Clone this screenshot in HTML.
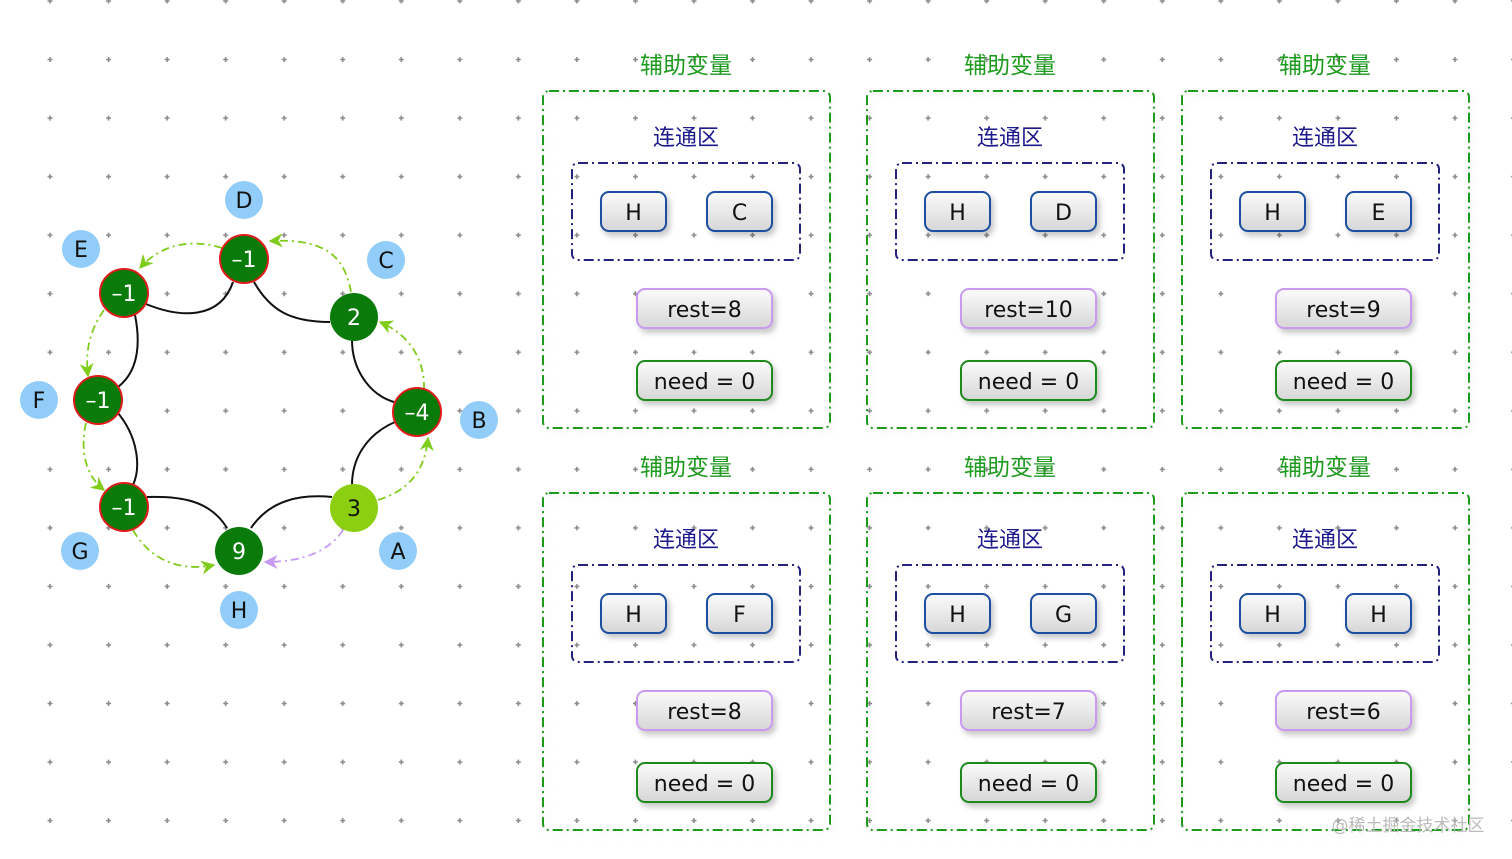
<!DOCTYPE html>
<html><head><meta charset="utf-8"><style>
html,body{margin:0;padding:0;background:#fff;width:1512px;height:859px;overflow:hidden}
svg{display:block}
text{font-family:"DejaVu Sans","Noto Sans CJK SC",sans-serif}
</style></head><body>
<svg width="1512" height="859" viewBox="0 0 1512 859" xmlns="http://www.w3.org/2000/svg">
<defs>
<pattern id="grid" patternUnits="userSpaceOnUse" x="20.75" y="-28.25" width="58.54" height="58.54">
<path d="M26.8 29.27h5M29.27 26.8v5" stroke="#8a8a8a" stroke-width="1.6"/>
</pattern>
<linearGradient id="btn" x1="0" y1="0" x2="0" y2="1">
<stop offset="0" stop-color="#fbfbfb"/><stop offset="1" stop-color="#d6d6d6"/>
</linearGradient>
<filter id="sh" x="-20%" y="-20%" width="150%" height="160%">
<feDropShadow dx="3" dy="4" stdDeviation="3" flood-color="#000" flood-opacity="0.22"/>
</filter>
<filter id="sh2" x="-5%" y="-5%" width="115%" height="115%">
<feDropShadow dx="3" dy="4" stdDeviation="4" flood-color="#000" flood-opacity="0.08"/>
</filter>
<marker id="ag" viewBox="0 0 10 10" refX="9" refY="5" markerWidth="14" markerHeight="14" orient="auto" markerUnits="userSpaceOnUse">
<path d="M0 0L10 5L0 10L3 5Z" fill="#80cc1c"/></marker>
<marker id="ap" viewBox="0 0 10 10" refX="9" refY="5" markerWidth="14" markerHeight="14" orient="auto" markerUnits="userSpaceOnUse">
<path d="M0 0L10 5L0 10L3 5Z" fill="#c79af5"/></marker>
<g id="panel">
<rect x="0" y="0" width="287" height="337" rx="6" fill="#fff" fill-opacity="0" stroke="#1e9a1e" stroke-width="2" stroke-dasharray="10 4 2 4" filter="url(#sh2)"/>
<text x="143" y="54" font-size="22" fill="#1d1a8c" text-anchor="middle">连通区</text>
<rect x="29" y="72" width="228" height="97" rx="6" fill="none" stroke="#23237e" stroke-width="2" stroke-dasharray="10 4 2 4"/>
<rect x="58" y="101" width="65" height="39" rx="8" fill="url(#btn)" stroke="#1f4fa0" stroke-width="2" filter="url(#sh)"/>
<text x="90.5" y="129" font-size="22" text-anchor="middle" fill="#111">H</text>
<rect x="164" y="101" width="65" height="39" rx="8" fill="url(#btn)" stroke="#1f4fa0" stroke-width="2" filter="url(#sh)"/>
<rect x="94" y="198" width="135" height="39" rx="8" fill="url(#btn)" stroke="#c99af0" stroke-width="2" filter="url(#sh)"/>
<rect x="94" y="270" width="135" height="39" rx="8" fill="url(#btn)" stroke="#1e8a1e" stroke-width="2" filter="url(#sh)"/>
<text x="161.5" y="298" font-size="22" text-anchor="middle" fill="#111">need = 0</text>
</g>
</defs>
<rect width="1512" height="859" fill="url(#grid)"/>

<g font-size="22" fill="#111" text-anchor="middle">
<g transform="translate(543,91)"><use href="#panel"/><text x="143" y="-18" font-size="23" fill="#1e9a1e">辅助变量</text><text x="196.5" y="129">C</text><text x="161.5" y="226">rest=8</text></g>
<g transform="translate(867,91)"><use href="#panel"/><text x="143" y="-18" font-size="23" fill="#1e9a1e">辅助变量</text><text x="196.5" y="129">D</text><text x="161.5" y="226">rest=10</text></g>
<g transform="translate(1182,91)"><use href="#panel"/><text x="143" y="-18" font-size="23" fill="#1e9a1e">辅助变量</text><text x="196.5" y="129">E</text><text x="161.5" y="226">rest=9</text></g>
<g transform="translate(543,493)"><use href="#panel"/><text x="143" y="-18" font-size="23" fill="#1e9a1e">辅助变量</text><text x="196.5" y="129">F</text><text x="161.5" y="226">rest=8</text></g>
<g transform="translate(867,493)"><use href="#panel"/><text x="143" y="-18" font-size="23" fill="#1e9a1e">辅助变量</text><text x="196.5" y="129">G</text><text x="161.5" y="226">rest=7</text></g>
<g transform="translate(1182,493)"><use href="#panel"/><text x="143" y="-18" font-size="23" fill="#1e9a1e">辅助变量</text><text x="196.5" y="129">H</text><text x="161.5" y="226">rest=6</text></g>
</g>

<g fill="none" stroke="#111" stroke-width="2">
<path d="M254 282C270 310 290 322 330 322"/>
<path d="M352 340C352 370 370 395 394 402"/>
<path d="M395 422C365 435 352 460 352 485"/>
<path d="M332 497C300 494 270 500 251 528"/>
<path d="M227 528C210 500 180 496 147 497"/>
<path d="M133 485C140 470 140 440 118 413"/>
<path d="M118 387C140 370 140 340 135 315"/>
<path d="M146 304C180 318 220 320 233 282"/>
</g>
<g fill="none" stroke="#80cc1c" stroke-width="1.8" stroke-dasharray="8 4 2 4">
<path d="M351 292C345 260 330 238 270 241" marker-end="url(#ag)"/>
<path d="M222 248C190 238 160 245 140 268" marker-end="url(#ag)"/>
<path d="M104 310C90 330 85 350 88 376" marker-end="url(#ag)"/>
<path d="M86 423C80 450 85 475 104 490" marker-end="url(#ag)"/>
<path d="M133 530C150 560 180 572 214 565" marker-end="url(#ag)"/>
<path d="M378 500C410 490 425 470 428 438" marker-end="url(#ag)"/>
<path d="M424 390C425 360 410 335 380 322" marker-end="url(#ag)"/>
</g>
<path d="M343 530C330 550 305 562 265 562" fill="none" stroke="#c79af5" stroke-width="1.8" stroke-dasharray="8 4 2 4" marker-end="url(#ap)"/>

<g font-size="22" text-anchor="middle">
<g fill="#0a7a0a" stroke="#e01b1b" stroke-width="2">
<circle cx="244" cy="259" r="24"/><circle cx="124" cy="293" r="24"/><circle cx="98" cy="400" r="24"/>
<circle cx="417" cy="412" r="24"/><circle cx="124" cy="507" r="24"/>
</g>
<circle cx="354" cy="317" r="24" fill="#0a7a0a"/>
<circle cx="239" cy="551" r="24" fill="#0a7a0a"/>
<circle cx="354" cy="508" r="24" fill="#8ccf10"/>
<g fill="#fff">
<text x="244" y="267">–1</text><text x="124" y="301">–1</text><text x="98" y="408">–1</text>
<text x="417" y="420">–4</text><text x="124" y="515">–1</text><text x="354" y="325">2</text><text x="239" y="559">9</text>
</g>
<text x="354" y="516" fill="#111">3</text>
<g fill="#92cdfa">
<circle cx="244" cy="200" r="19"/><circle cx="81" cy="249" r="19"/><circle cx="386" cy="260" r="19"/>
<circle cx="39" cy="400" r="19"/><circle cx="479" cy="420" r="19"/><circle cx="80" cy="551" r="19"/>
<circle cx="398" cy="551" r="19"/><circle cx="239" cy="610" r="19"/>
</g>
<g fill="#111">
<text x="244" y="208">D</text><text x="81" y="257">E</text><text x="386" y="268">C</text>
<text x="39" y="408">F</text><text x="479" y="428">B</text><text x="80" y="559">G</text>
<text x="398" y="559">A</text><text x="239" y="618">H</text>
</g>
</g>
<text x="1408" y="831" font-size="17" fill="#bbb" text-anchor="middle">@稀土掘金技术社区</text>
</svg>
</body></html>
